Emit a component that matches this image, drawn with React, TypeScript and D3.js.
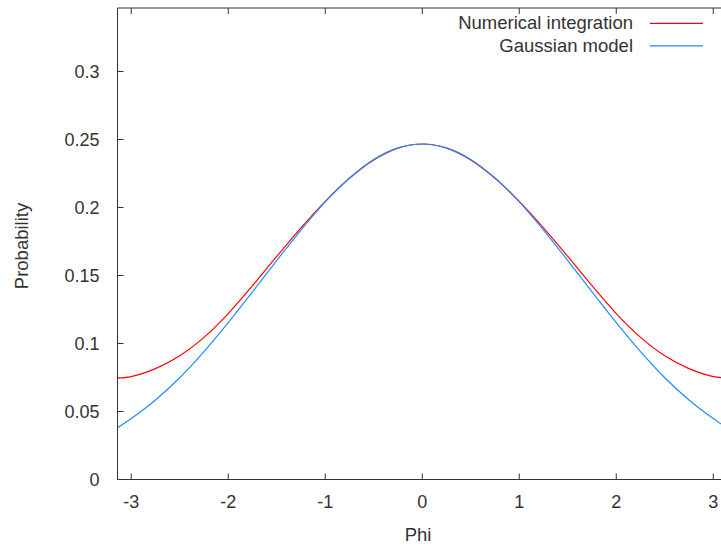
import React from "react";
import * as d3 from "d3";

const phiValues = [-3.1416, -3, -2.75, -2.5, -2.25, -2, -1.75, -1.5, -1.25, -1, -0.75, -0.5, -0.25, 0, 0.25, 0.5, 0.75, 1, 1.25, 1.5, 1.75, 2, 2.25, 2.5, 2.75, 3, 3.1416];
const numericalValues = [0.0747, 0.0757, 0.0815, 0.091, 0.1045, 0.122, 0.1425, 0.164, 0.185, 0.2045, 0.2215, 0.235, 0.2437, 0.2467, 0.2437, 0.235, 0.2215, 0.2045, 0.185, 0.164, 0.1425, 0.122, 0.1045, 0.091, 0.0815, 0.0757, 0.0747];
const gaussianValues = [0.038, 0.0448, 0.0585, 0.0748, 0.094, 0.1153, 0.138, 0.161, 0.1834, 0.2041, 0.2217, 0.2353, 0.2438, 0.2467, 0.2438, 0.2353, 0.2217, 0.2041, 0.1834, 0.161, 0.138, 0.1153, 0.094, 0.0748, 0.0585, 0.0448, 0.038];
const xTicks = [-3, -2, -1, 0, 1, 2, 3];
const yTicks = [0, 0.05, 0.1, 0.15, 0.2, 0.25, 0.3];
const seriesNames = ["Numerical integration", "Gaussian model"];
const seriesColors = ["#ff0000", "#1e8cff"];

export default function App() {
  const W = 721, H = 546;
  const left = 117.5, top = 8, bottom = 479.5, right = 727;
  const x = d3.scaleLinear().domain([-Math.PI, Math.PI]).range([left, right]);
  const y = d3.scaleLinear().domain([0, (bottom - top) / 1360]).range([bottom, top]);
  const line = d3
    .line<number>()
    .x((_, i) => x(phiValues[i]))
    .y((d) => y(d))
    .curve(d3.curveCatmullRom.alpha(0.5));
  const series = [numericalValues, gaussianValues];
  const font = "'Liberation Sans', Arial, sans-serif";
  const axisColor = "#333";
  const textColor = "#333";
  return (
    <svg width={W} height={H} style={{ position: "absolute", left: 0, top: 0, background: "#fff" }} fontFamily={font}>
      <rect x={0} y={0} width={W} height={H} fill="#fff" />
      <defs>
        <clipPath id="plot">
          <rect x={left} y={top} width={right - left} height={bottom - top} />
        </clipPath>
      </defs>
      <path d={`M${right},${top}H${left}V${bottom}H${right}`} fill="none" stroke={axisColor} strokeWidth={1} />
      {xTicks.map((t) => (
        <g key={"x" + t}>
          <line x1={x(t)} x2={x(t)} y1={bottom} y2={bottom - 6} stroke={axisColor} />
          <line x1={x(t)} x2={x(t)} y1={top} y2={top + 6} stroke={axisColor} />
          <text x={x(t)} y={508} textAnchor="middle" fontSize={18} fill={textColor}>
            {t}
          </text>
        </g>
      ))}
      {yTicks.map((t) => (
        <g key={"y" + t}>
          <line x1={left} x2={left + 6} y1={y(t)} y2={y(t)} stroke={axisColor} />
          <text x={99.5} y={y(t)} dy="0.35em" textAnchor="end" fontSize={18} fill={textColor}>
            {t}
          </text>
        </g>
      ))}
      <text x={418} y={541} textAnchor="middle" fontSize={18.5} fill={textColor}>
        Phi
      </text>
      <text transform={`translate(28,246) rotate(-90)`} textAnchor="middle" fontSize={18.5} fill={textColor}>
        Probability
      </text>
      <g clipPath="url(#plot)">
        {series.map((s, i) => (
          <path key={i} d={line(s) || ""} fill="none" stroke={seriesColors[i]} strokeWidth={1.2} />
        ))}
      </g>
      {seriesNames.map((name, i) => (
        <g key={name}>
          <text x={633} y={29 + i * 23} textAnchor="end" fontSize={18.5} fill={textColor}>
            {name}
          </text>
          <line x1={650} x2={703} y1={23.3 + i * 22.5} y2={23.3 + i * 22.5} stroke={seriesColors[i]} strokeWidth={1.2} />
        </g>
      ))}
    </svg>
  );
}
